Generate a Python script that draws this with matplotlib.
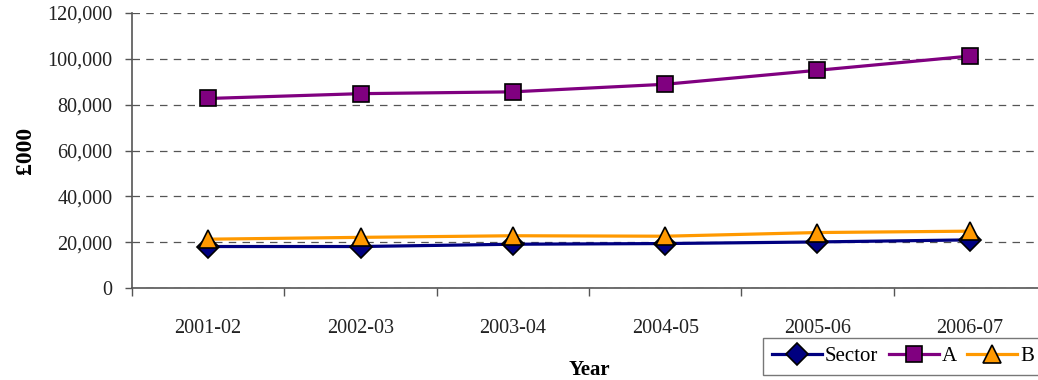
import numpy as np
import matplotlib.pyplot as plt
from matplotlib.ticker import FuncFormatter, FixedLocator

# yearly totals in £000
years = ['2001-02', '2002-03', '2003-04', '2004-05', '2005-06', '2006-07']
sector = [18100, 18100, 19100, 19400, 20100, 21000]
a_vals = [82700, 84800, 85600, 88900, 95000, 101200]
b_vals = [21300, 22100, 22800, 22600, 24200, 24800]

plt.rcParams['font.family'] = ['Liberation Serif', 'DejaVu Serif']

fig = plt.figure(figsize=(10.38, 3.80), dpi=100)
ax = fig.add_axes([132 / 1038, 1 - 288 / 380, 914 / 1038, 275 / 380])

x = np.arange(len(years))
style = dict(linewidth=2.3, markeredgecolor='black', markeredgewidth=1.2, clip_on=False)
ax.plot(x, sector, color='#000080', marker='D', markersize=11, label='Sector', zorder=3, **style)
ax.plot(x, a_vals, color='#800080', marker='s', markersize=11, label='A', zorder=3, **style)
ax.plot(x, b_vals, color='#FF9900', marker='^', markersize=13, label='B', zorder=4, **style)

ax.set_xlim(-0.5, len(years) - 0.5)
ax.set_ylim(0, 120000)
ax.set_yticks(np.arange(0, 120001, 20000))
ax.yaxis.set_major_formatter(FuncFormatter(lambda v, p: f'{int(v):,}'))
ax.set_xticks(x)
ax.set_xticklabels(years)
ax.xaxis.set_minor_locator(FixedLocator(np.arange(-0.5, len(years), 1.0)))
ax.tick_params(axis='x', which='major', length=0, pad=22, labelsize=14.5, labelcolor='#222222')
ax.tick_params(axis='x', which='minor', length=6, width=1, color='#555555')
ax.tick_params(axis='y', length=5, width=1, color='#555555', labelsize=14.5, labelcolor='#222222', pad=9)

ax.grid(axis='y', linestyle=(0, (6, 5)), color='#555555', linewidth=0.9)
ax.set_axisbelow(True)
for side in ['top', 'right']:
    ax.spines[side].set_visible(False)
for side in ['left', 'bottom']:
    ax.spines[side].set_color('#555555')
    ax.spines[side].set_linewidth(1.2)

ax.set_ylabel('£000', fontsize=17, fontweight='bold', labelpad=8)
ax.set_xlabel('Year', fontsize=15, fontweight='bold', labelpad=16)

fig.legend(loc='upper left', bbox_to_anchor=(763 / 1038, 1 - 338 / 380), ncol=3,
           frameon=True, fancybox=False, edgecolor='#555555', fontsize=15,
           handlelength=2.4, handletextpad=0.15, columnspacing=0.5, borderpad=0.42,
           borderaxespad=0)

fig.savefig('out.png', dpi=100)
